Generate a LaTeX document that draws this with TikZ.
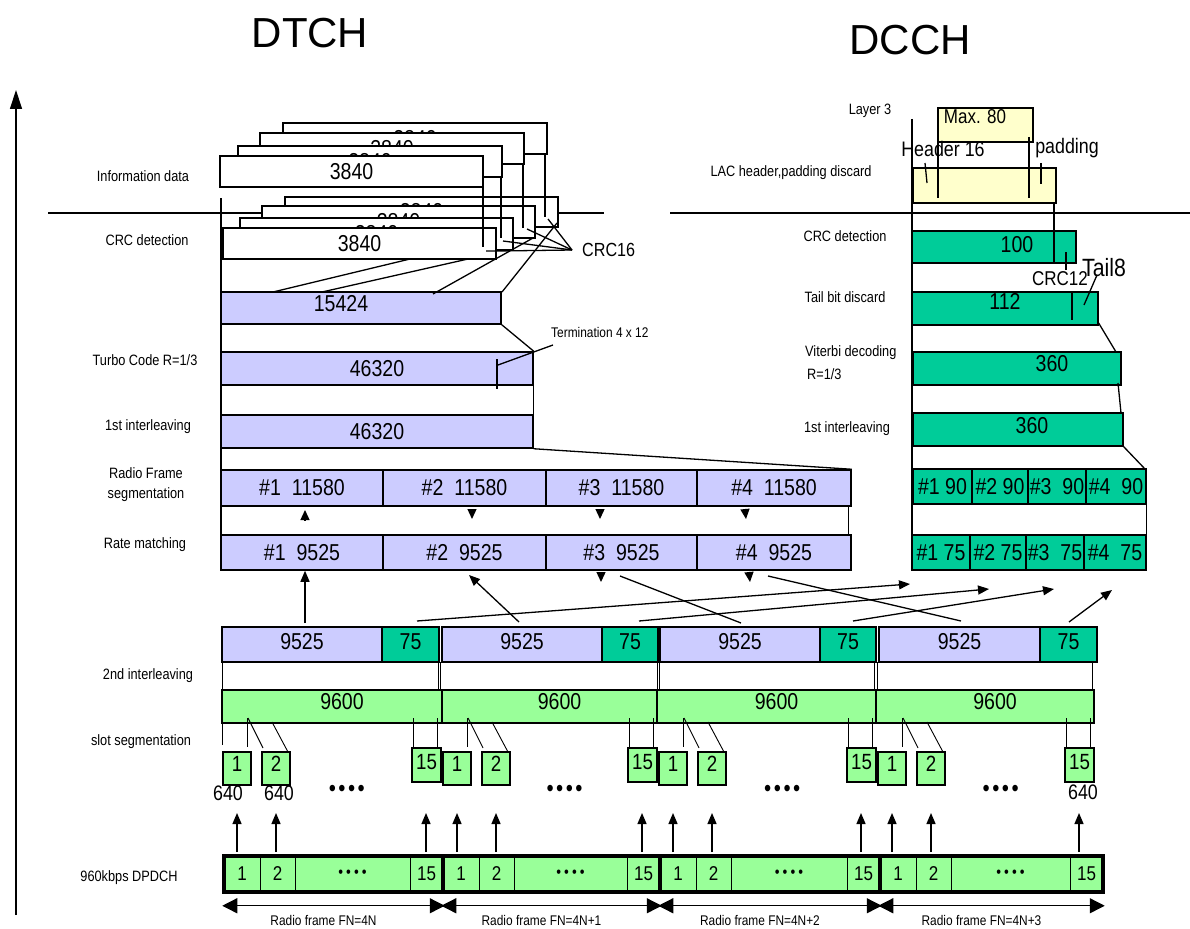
\documentclass[tikz,border=0pt]{standalone}
\usepackage{fontspec}
\setmainfont{Liberation Sans}[FakeStretch=0.85]
\newfontfamily\titleface{Liberation Sans}
\usetikzlibrary{arrows.meta}
\definecolor{boxpurple}{RGB}{204,204,255}
\definecolor{boxteal}{RGB}{0,204,153}
\definecolor{boxlime}{RGB}{153,255,153}
\definecolor{boxcream}{RGB}{255,255,204}
\newcommand{\numsize}{\fontsize{23}{25}\selectfont}
\newcommand{\lblsize}{\fontsize{15}{20}\selectfont}
\newcommand{\dotrun}[1]{\textbullet\hspace{#1}\textbullet\hspace{#1}\textbullet\hspace{#1}\textbullet}
\tikzset{
  spans/.style n args={4}{minimum width={(#3)-(#1)},minimum height={(#4)-(#2)},at={({((#1)+(#3))/2},{((#2)+(#4))/2})}},
  blk/.style={rectangle,draw=black,line width=1.5pt,inner sep=0pt,font=\numsize},
  whitebox/.style={blk,fill=white},
  purpbox/.style={blk,fill=boxpurple},
  tealbox/.style={blk,fill=boxteal},
  limebox/.style={blk,fill=boxlime},
  creambox/.style={blk,fill=boxcream},
  steplbl/.style={font=\lblsize,align=center,inner sep=0pt},
  numlbl/.style={font=\numsize,inner sep=0pt},
  notelbl/.style={font=\fontsize{20}{22}\selectfont,inner sep=0pt},
  ln/.style={line width=1.3pt},
  thinln/.style={line width=0.9pt},
  arr/.style={ln,-{Triangle[length=11pt,width=9pt]}},
  headonly/.style={ln,-{Triangle[length=10pt,width=9pt]}},
  framearr/.style={ln,{Triangle[length=15pt,width=15pt]}-{Triangle[length=15pt,width=15pt]}}
}

\begin{document}
\begin{tikzpicture}[x=1pt,y=-1pt]
  \useasboundingbox (0,0) rectangle (1190,928);

  \node[font=\titleface\fontsize{42}{44}\selectfont] (dtch) at (310,33) {DTCH};
  \node[font=\titleface\fontsize{42}{44}\selectfont] (dcch) at (910,40) {DCCH};

  \coordinate (axisfoot) at (16,915);
  \coordinate (axishead) at (16,90);
  \draw[ln,-{Triangle[length=19pt,width=12pt]}] (axisfoot) -- (axishead);

  \node[steplbl] (l-info) at (143,176) {Information data};
  \node[steplbl] (l-crc) at (147,240) {CRC detection};
  \node[steplbl] (l-turbo) at (145,360) {Turbo Code R=1/3};
  \node[steplbl] (l-int1) at (148,427) {1st interleaving};
  \node[steplbl] (l-seg) at (146,485) {Radio Frame\\segmentation};
  \node[steplbl] (l-rm) at (145,545) {Rate matching};
  \node[steplbl] (l-int2) at (148,676) {2nd interleaving};
  \node[steplbl] (l-slot) at (141,742) {slot segmentation};
  \node[steplbl] (l-dpdch) at (129,878) {960kbps DPDCH};

  \node[steplbl] (r-l3) at (870,111) {Layer 3};
  \node[steplbl] (r-lac) at (791,173) {LAC header,padding discard};
  \node[steplbl] (r-crc) at (845,236) {CRC detection};
  \node[steplbl] (r-tail) at (845,297) {Tail bit discard};
  \node[steplbl,anchor=west] (r-vit) at (805,353) {Viterbi decoding};
  \node[steplbl,anchor=west] (r-rate) at (807,374) {R=1/3};
  \node[steplbl] (r-int1) at (847,429) {1st interleaving};

  \coordinate (sepa) at (48,213);
  \coordinate (sepb) at (604,213);
  \coordinate (sepc) at (670,213);
  \coordinate (sepd) at (1190,213);
  \draw[ln] (sepa) -- (sepb);
  \draw[ln] (sepc) -- (sepd);
  \draw[ln] (221,198) -- (221,535);
  \draw[ln] (912,119) -- (912,535);

  % DTCH
  \foreach \n/\a/\b/\c/\d in {4/283/123/547/154,3/260/133/524/164,2/238/146/502/177,1/220/156/483/187}
    \node[whitebox,spans={\a}{\b}{\c}{\d}] (info\n) {3840};
  \foreach \n/\a/\b/\c/\d in {4/285/197/558/227,3/262/206/535/238,2/240/218/513/250,1/223/228/496/259}
    \node[whitebox,spans={\a}{\b}{\c}{\d}] (crc\n) {3840};
  \foreach \x/\y/\z in {545/154/217,523/164/228,501/177/238,483/187/247}
    \draw[ln] (\x,\y) -- (\x,\z);

  \coordinate (crcapex) at (572,250);
  \draw[ln] (486,251) -- (497,251) -- (crcapex);
  \draw[ln] (503,241) -- (crcapex);
  \draw[ln] (527,229) -- (crcapex);
  \draw[ln] (548,219) -- (crcapex);
  \node[notelbl,font=\fontsize{19}{21}\selectfont,anchor=west] (crc16) at (582,250) {CRC16};

  \node[purpbox,spans={221}{292}{501}{324}] (tb15424) {};
  \node[numlbl] (t15424) at (341,304) {15424};
  \draw[ln] (410,259) -- (273,292);
  \draw[ln] (468,259) -- (322,292);
  \draw[ln] (533,238) -- (433,294);
  \draw[ln] (557,223) -- (502,292);

  \node[purpbox,spans={221}{352}{533}{385}] (turbo) {46320};
  \node[purpbox,spans={221}{415}{533}{448}] (intl1) {46320};
  \draw[ln] (tb15424.south east) -- (turbo.north east);
  \draw[ln] (turbo.south east) -- (intl1.north east);
  \draw[ln] (497,359) -- (497,389);
  \draw[ln] (498,365) -- (553,345);
  \node[steplbl,font=\fontsize{14}{16}\selectfont,anchor=west] (term) at (551,332) {Termination 4 x 12};

  \foreach \n/\a/\b in {1/221/383,2/383/546,3/546/697,4/697/851}{
    \node[purpbox,spans={\a}{470}{\b}{506}] (seg\n) {\#\n\ \ 11580};
    \node[purpbox,spans={\a}{535}{\b}{570}] (rm\n) {\#\n\ \ 9525};
  }
  \draw[ln] (intl1.south east) -- (seg4.north east);
  \draw[ln] ([xshift=-3pt]seg4.south east) -- ([xshift=-3pt]rm4.north east);

  \draw[headonly] (305,520) -- (305,510);
  \draw[headonly] (472,509) -- (472,519);
  \draw[headonly] (600,509) -- (600,519);
  \draw[headonly] (745,509) -- (746,519);

  \foreach \f/\a/\b/\c in {1/222/382/439,2/442/602/658,3/660/820/876,4/879/1040/1097}{
    \node[purpbox,text depth=7pt,spans={\a}{627}{\b}{662}] (ilv\f) {9525};
    \node[tealbox,text depth=5pt,spans={\b}{627}{\c}{662}] (ilc\f) {75};
  }

  \draw[arr] (305,623) -- (rm1.south -| 305,0);
  \draw[arr] (519,622) -- (469,575);
  \draw[headonly] (601,572) -- (601,582);
  \draw[ln] (741,623) -- (620,576);
  \draw[headonly] (749,572) -- (750,582);
  \draw[ln] (961,621) -- (768,576);
  \draw[arr] (417,621) -- (910,584);
  \draw[arr] (639,621) -- (989,589);
  \draw[arr] (853,621) -- (1054,589);
  \draw[arr] (1069,622) -- (1112,590);

  \foreach \x in {222,438,440,657,659,874,877,1092}
    \draw[thinln] (\x,662) -- (\x,690);
  \foreach \f/\a/\b in {1/222/442,2/442/657,3/657/876,4/876/1094}
    \node[limebox,text depth=11pt,spans={\a}{690}{\b}{723}] (fr\f) {\hspace*{20pt}9600};

  \draw[thinln] (222,718) -- (222,745);
  \foreach \f/\L/\R in {1/222/441,2/442/657,3/658/876,4/877/1094}{
    \draw[thinln] ({\L+25},718) -- ({\L+25},747);
    \draw[thinln] ({\L+26},718) -- ({\L+41},748);
    \draw[thinln] ({\L+50},722) -- ({\L+66},752);
    \draw[thinln] ({\R-28},718) -- ({\R-28},747);
    \draw[thinln] ({\R-4},718) -- ({\R-4},750);
    \node[limebox,text depth=9pt,font=\fontsize{22}{24}\selectfont,spans={\L+1}{752}{\L+29}{785}] (sa\f) {1};
    \node[limebox,text depth=9pt,font=\fontsize{22}{24}\selectfont,spans={\L+40}{752}{\L+68}{785}] (sb\f) {2};
    \node[limebox,text depth=6pt,font=\fontsize{22}{24}\selectfont,spans={\R-29}{748}{\R}{782}] (sc\f) {15};
    \node[font=\fontsize{24}{26}\selectfont,inner sep=0pt] (sdots\f) at ({\L+0.57*(\R-\L)},791) {\dotrun{2.5pt}};
    \draw[arr] ({\L+15},852) -- ({\L+15},813);
    \draw[arr] ({\L+54},852) -- ({\L+54},813);
    \draw[arr] ({\R-15},852) -- ({\R-15},813);
  }
  \node[font=\fontsize{21}{23}\selectfont,inner sep=0pt] (s640a) at (228,793) {640};
  \node[font=\fontsize{21}{23}\selectfont,inner sep=0pt] (s640b) at (279,793) {640};
  \node[font=\fontsize{21}{23}\selectfont,inner sep=0pt] (s640c) at (1083,792) {640};

  \foreach \f/\L/\R/\fn in {1/224/443/4N,2/443/660/4N+1,3/660/880/4N+2,4/880/1103/4N+3}{
    \node[limebox,line width=1pt,font=\fontsize{20}{22}\selectfont,spans={\L}{856}{\L+36}{892}] (d\f-a) {1};
    \node[limebox,line width=1pt,font=\fontsize{20}{22}\selectfont,spans={\L+36}{856}{\L+71}{892}] (d\f-b) {2};
    \node[limebox,line width=1pt,font=\fontsize{16}{18}\selectfont,spans={\L+71}{856}{\R-33}{892}] (d\f-m) {\dotrun{3pt}};
    \node[limebox,line width=1pt,font=\fontsize{20}{22}\selectfont,spans={\R-33}{856}{\R}{892}] (d\f-c) {15};
    \node[draw,line width=3.5pt,inner sep=0pt,spans={\L}{856}{\R}{892}] (dp\f) {};
    \draw[framearr] ([yshift=-12pt]dp\f.south west) -- ([yshift=-12pt]dp\f.south east);
    \node[font=\fontsize{14}{16}\selectfont,inner sep=0pt] (rf\f) at ([xshift=-10pt,yshift=-27pt]dp\f.south) {Radio frame FN=\fn};
  }

  % DCCH
  \node[creambox,spans={938}{108}{1033}{142}] (maxbox) {};
  \node[notelbl] (maxlbl) at (975,117) {Max. 80};
  \node[creambox,spans={913}{168}{1056}{203}] (lacbox) {};
  \draw[ln] (938,142) -- (938,198);
  \draw[ln] (1029,137) -- (1029,198);
  \draw[ln] (925,163) -- (927,183);
  \draw[ln] (1041,163) -- (1041,184);
  \node[notelbl,font=\fontsize{21}{23}\selectfont] (hdr) at (943,149) {Header 16};
  \node[notelbl,font=\fontsize{21}{23}\selectfont] (pad) at (1067,148) {padding};

  \node[tealbox,spans={912}{231}{1076}{263}] (c100) {};
  \node[numlbl] (t100) at (1017,245) {100};
  \draw[ln] (1054,203) -- (1054,263);
  \draw[ln] (1066,252) -- (1066,270);
  \node[notelbl] (crc12) at (1060,279) {CRC12};
  \node[notelbl,font=\fontsize{25}{27}\selectfont] (tail8) at (1104,268) {Tail8};

  \node[tealbox,spans={912}{292}{1098}{325}] (c112) {};
  \node[numlbl] (t112) at (1005,301) {112};
  \draw[ln] (1072,292) -- (1072,320);
  \draw[ln] (1097,275) -- (1084,305);

  \node[tealbox,spans={913}{352}{1121}{385}] (vit) {};
  \node[numlbl] (t360a) at (1052,364) {360};
  \node[tealbox,spans={913}{413}{1123}{446}] (dint) {};
  \node[numlbl] (t360b) at (1032,426) {360};
  \draw[ln] (1098,322) -- (1116,352);
  \draw[ln] (1118,383) -- (1121,413);
  \draw[ln] (1123,446) -- (1145,469);

  \foreach \n/\a/\b/\s in {1/913/972/,2/972/1028/,3/1028/1086/\ ,4/1086/1146/\ }
    \node[tealbox,spans={\a}{469}{\b}{504}] (dseg\n) {\#\n\ \s90};
  \foreach \n/\a/\b/\s in {1/912/970/,2/970/1026/,3/1026/1084/\ ,4/1084/1146/\ }
    \node[tealbox,spans={\a}{535}{\b}{570}] (drm\n) {\#\n\ \s75};
  \draw[ln] (dseg4.south east) -- (drm4.north east);
\end{tikzpicture}
\end{document}
